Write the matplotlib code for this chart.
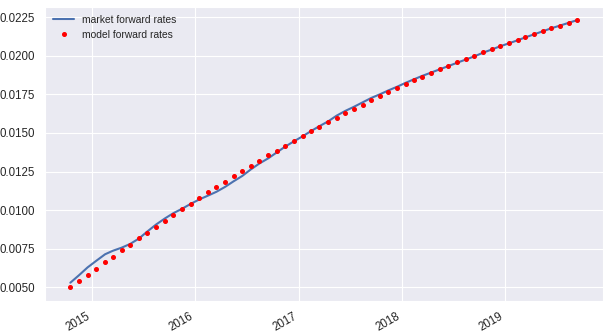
import matplotlib
matplotlib.use("Agg")
import matplotlib.pyplot as plt
import matplotlib.dates as mdates
import pandas as pd
import seaborn as sns

sns.set_style("darkgrid")
plt.rcParams["font.family"] = ["Liberation Sans", "DejaVu Sans"]

# Monthly observation dates
dates = pd.date_range(start="2014-10-15", periods=60, freq=pd.DateOffset(months=1))

market_forward = [
    0.00531, 0.00580, 0.00630, 0.00673, 0.00715, 0.00738, 0.00758, 0.00782,
    0.00817, 0.00863, 0.00908, 0.00947, 0.00981, 0.01010, 0.01041, 0.01070,
    0.01095, 0.01119, 0.01151, 0.01187, 0.01222, 0.01264, 0.01303, 0.01336,
    0.01374, 0.01413, 0.01446, 0.01479, 0.01514, 0.01544, 0.01575, 0.01612,
    0.01643, 0.01669, 0.01698, 0.01727, 0.01750, 0.01776, 0.01799, 0.01825,
    0.01849, 0.01870, 0.01891, 0.01912, 0.01933, 0.01954, 0.01975, 0.01996,
    0.02019, 0.02040, 0.02061, 0.02080, 0.02100, 0.02119, 0.02139, 0.02158,
    0.02178, 0.02195, 0.02213, 0.02231,
]

model_forward = [
    0.00501, 0.00540, 0.00579, 0.00618, 0.00663, 0.00696, 0.00741, 0.00773,
    0.00819, 0.00851, 0.00890, 0.00929, 0.00968, 0.01007, 0.01039, 0.01078,
    0.01117, 0.01149, 0.01181, 0.01220, 0.01252, 0.01285, 0.01317, 0.01356,
    0.01382, 0.01415, 0.01447, 0.01479, 0.01512, 0.01538, 0.01570, 0.01596,
    0.01628, 0.01654, 0.01680, 0.01712, 0.01738, 0.01764, 0.01790, 0.01816,
    0.01842, 0.01862, 0.01887, 0.01913, 0.01932, 0.01959, 0.01978, 0.01997,
    0.02023, 0.02042, 0.02062, 0.02081, 0.02101, 0.02120, 0.02140, 0.02159,
    0.02179, 0.02191, 0.02211, 0.02231,
]

fig = plt.figure(figsize=(6.1, 3.34), dpi=100)
ax = fig.add_axes([45 / 610, 33.3 / 334, 557.7 / 610, 294 / 334])

ax.plot(dates, market_forward, color="#4C72B0", linewidth=1.5,
        label="market forward rates")
ax.plot(dates, model_forward, linestyle="none", marker="o", markersize=2.6,
        color="red", label="model forward rates")

ax.xaxis.set_major_locator(mdates.YearLocator())
ax.xaxis.set_major_formatter(mdates.DateFormatter("%Y"))
ax.tick_params(labelsize=8.3, colors=".15")

for lbl in ax.get_xticklabels():
    lbl.set_rotation(30)
    lbl.set_horizontalalignment("right")

ax.legend(loc="upper left", frameon=False, fontsize=7.4, numpoints=1,
          borderaxespad=0.4, labelspacing=0.45)

fig.savefig("out.png", dpi=100)
